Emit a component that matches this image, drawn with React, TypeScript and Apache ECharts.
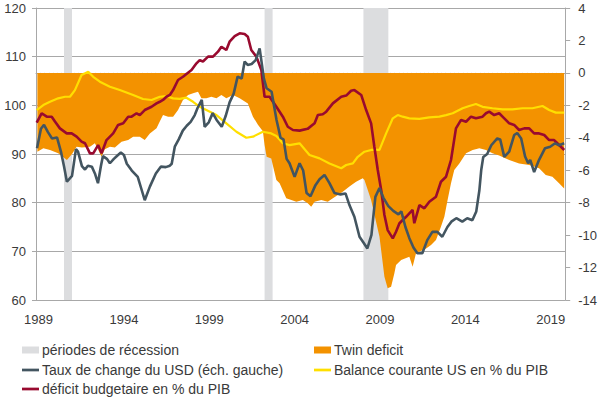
import React, { useEffect, useRef } from "react";
import * as echarts from "echarts";

const X_MIN = 1988.85;
const X_MAX = 2019.85;
const yearLabels = [1989, 1994, 1999, 2004, 2009, 2014, 2019];

const recessionPeriods: [number, number][] = [
  [1990.49, 1990.96],
  [2002.24, 2002.71],
  [2008.03, 2009.49],
];

// USD exchange rate index (left axis)
const usdIndex: [number, number][] = [
  [1988.91, 91.2], [1989.14, 95.2], [1989.32, 96.0], [1989.55, 94.5], [1989.79, 93.2],
  [1990.08, 93.4], [1990.31, 90.5], [1990.49, 87.5], [1990.66, 84.3], [1990.96, 85.5],
  [1991.19, 91.0], [1991.31, 90.5], [1991.54, 87.5], [1991.72, 86.8], [1991.89, 87.6],
  [1992.12, 87.4], [1992.3, 86.0], [1992.48, 84.0], [1992.65, 87.5], [1992.77, 89.6],
  [1993.0, 89.0], [1993.18, 88.1], [1993.41, 89.0], [1993.59, 89.6], [1993.82, 90.3],
  [1994.0, 89.8], [1994.17, 88.0], [1994.46, 86.6], [1994.81, 85.3], [1995.05, 82.5],
  [1995.22, 80.5], [1995.52, 83.3], [1995.87, 86.0], [1996.16, 87.4], [1996.45, 87.3],
  [1996.69, 87.6], [1996.8, 88.0], [1996.98, 91.5], [1997.21, 93.0], [1997.45, 94.8],
  [1997.68, 95.8], [1997.91, 96.6], [1998.15, 98.0], [1998.32, 99.5], [1998.56, 101.1],
  [1998.73, 95.6], [1998.97, 96.5], [1999.2, 98.4], [1999.43, 97.0], [1999.73, 95.6],
  [1999.96, 97.8], [2000.19, 100.6], [2000.43, 102.4], [2000.66, 105.9], [2000.9, 105.5],
  [2001.07, 109.0], [2001.25, 108.3], [2001.48, 108.5], [2001.72, 109.3], [2001.95, 111.7],
  [2002.2, 105.5], [2002.36, 103.5], [2002.65, 102.8], [2002.94, 97.0], [2003.18, 93.3],
  [2003.35, 93.0], [2003.53, 89.0], [2003.7, 88.1], [2004.0, 85.3], [2004.29, 88.1],
  [2004.5, 86.6], [2004.7, 82.0], [2004.93, 81.3], [2005.22, 83.6], [2005.46, 84.8],
  [2005.75, 85.7], [2006.04, 84.0], [2006.33, 82.0], [2006.69, 81.7], [2006.98, 81.9],
  [2007.21, 79.5], [2007.5, 77.1], [2007.8, 73.0], [2008.03, 71.8], [2008.26, 70.6],
  [2008.5, 73.4], [2008.73, 81.2], [2008.97, 83.0], [2009.2, 81.0], [2009.49, 79.3],
  [2009.78, 78.3], [2010.08, 77.6], [2010.25, 78.2], [2010.49, 75.0], [2010.72, 72.7],
  [2010.96, 70.8], [2011.19, 69.6], [2011.48, 69.6], [2011.77, 72.3], [2012.07, 74.0],
  [2012.36, 74.0], [2012.65, 73.0], [2012.95, 75.0], [2013.18, 76.1], [2013.47, 76.8],
  [2013.82, 76.1], [2014.11, 76.8], [2014.41, 76.4], [2014.64, 78.2], [2014.82, 82.5],
  [2014.93, 86.7], [2015.05, 89.4], [2015.28, 90.0], [2015.52, 91.8], [2015.87, 93.2],
  [2016.04, 93.0], [2016.28, 89.4], [2016.57, 90.5], [2016.86, 93.9], [2017.04, 94.3],
  [2017.27, 93.2], [2017.5, 89.5], [2017.68, 88.1], [2017.8, 88.8], [2018.03, 86.3],
  [2018.32, 88.8], [2018.67, 91.2], [2018.97, 91.5], [2019.26, 92.2], [2019.49, 91.8],
  [2019.79, 92.2],
];

// Budget deficit, % of GDP (right axis)
const budgetDeficit: [number, number][] = [
  [1988.89, -3.07], [1989.18, -2.49], [1989.48, -2.7], [1989.77, -2.7], [1989.96, -3.0],
  [1990.25, -3.42], [1990.65, -3.73], [1990.94, -3.73], [1991.23, -3.93], [1991.52, -4.24],
  [1991.72, -4.34], [1992.01, -4.96], [1992.2, -4.96], [1992.49, -4.45], [1992.69, -4.96],
  [1992.98, -4.14], [1993.37, -3.73], [1993.66, -3.21], [1993.96, -3.11], [1994.25, -2.7],
  [1994.45, -2.7], [1994.74, -2.49], [1994.93, -2.6], [1995.22, -2.29], [1995.62, -2.09],
  [1995.91, -1.88], [1996.1, -1.78], [1996.29, -1.67], [1996.49, -1.47], [1996.69, -1.36],
  [1996.88, -1.06], [1997.17, -0.44], [1997.46, -0.24], [1997.96, 0.18], [1998.25, 0.59],
  [1998.44, 0.79], [1998.63, 0.7], [1998.93, 1.0], [1999.22, 1.0], [1999.51, 1.31],
  [1999.71, 1.61], [2000.0, 1.41], [2000.19, 1.92], [2000.49, 2.27], [2000.78, 2.44],
  [2001.07, 2.4], [2001.26, 2.23], [2001.46, 1.41], [2001.76, 1.0], [2002.05, 0.18],
  [2002.24, -1.47], [2002.53, -1.47], [2002.93, -2.09], [2003.31, -2.7], [2003.6, -3.32],
  [2003.9, -3.52], [2004.29, -3.56], [2004.76, -3.45], [2005.17, -3.11], [2005.36, -2.6],
  [2005.65, -2.55], [2005.85, -2.39], [2006.24, -1.88], [2006.73, -1.47], [2007.02, -1.4],
  [2007.31, -1.1], [2007.5, -1.06], [2007.9, -1.36], [2008.19, -2.29], [2008.48, -3.11],
  [2008.67, -4.55], [2008.87, -5.99], [2009.07, -7.22], [2009.26, -8.76], [2009.45, -9.69],
  [2009.75, -10.2], [2009.94, -9.79], [2010.14, -9.27], [2010.53, -8.87], [2010.91, -8.45],
  [2011.01, -9.27], [2011.31, -8.15], [2011.6, -8.35], [2011.89, -7.94], [2012.28, -7.63],
  [2012.57, -6.71], [2012.87, -6.4], [2013.16, -5.37], [2013.45, -3.42], [2013.75, -2.9],
  [2014.04, -3.01], [2014.33, -2.7], [2014.62, -2.8], [2015.01, -2.7], [2015.21, -2.49],
  [2015.4, -2.39], [2015.69, -2.6], [2015.98, -2.49], [2016.28, -2.8], [2016.57, -3.11],
  [2016.86, -3.21], [2017.15, -3.52], [2017.45, -3.42], [2017.74, -3.42], [2018.03, -3.73],
  [2018.32, -3.73], [2018.62, -3.83], [2018.91, -4.14], [2019.2, -4.14], [2019.39, -4.34],
  [2019.79, -4.75],
];

// Current account balance, % of GDP (right axis)
const currentAccount: [number, number][] = [
  [1988.89, -2.29], [1989.28, -1.98], [1989.67, -1.78], [1990.15, -1.57], [1990.55, -1.47],
  [1990.84, -1.47], [1991.13, -1.06], [1991.52, -0.13], [1991.91, 0.07], [1992.2, -0.24],
  [1992.59, -0.54], [1993.18, -0.85], [1993.76, -1.06], [1994.54, -1.36], [1995.12, -1.61],
  [1995.62, -1.67], [1996.1, -1.47], [1996.49, -1.43], [1996.88, -1.57], [1997.27, -1.6],
  [1997.66, -1.53], [1998.05, -1.78], [1998.44, -2.09], [1998.83, -2.29], [1999.42, -2.6],
  [2000.0, -3.11], [2000.59, -3.63], [2001.17, -4.0], [2001.56, -3.93], [2002.14, -3.63],
  [2002.63, -3.73], [2002.93, -3.89], [2003.31, -4.34], [2003.7, -4.45], [2004.29, -4.34],
  [2004.87, -5.06], [2005.46, -5.27], [2006.04, -5.58], [2006.73, -5.88], [2007.02, -5.68],
  [2007.41, -5.58], [2007.7, -5.17], [2008.09, -4.86], [2008.48, -4.75], [2008.97, -4.75],
  [2009.36, -3.73], [2009.75, -2.8], [2010.04, -2.6], [2010.33, -2.7], [2010.72, -2.8],
  [2011.31, -2.84], [2011.89, -2.74], [2012.48, -2.7], [2012.87, -2.6], [2013.26, -2.49],
  [2013.84, -2.18], [2014.23, -2.04], [2014.62, -1.92], [2015.01, -2.09], [2015.59, -2.18],
  [2016.18, -2.25], [2016.76, -2.25], [2017.35, -2.18], [2017.93, -2.18], [2018.52, -2.04],
  [2018.91, -2.29], [2019.3, -2.45], [2019.79, -2.45],
];

// Twin deficit (current account + budget), % of GDP (right axis)
const twinDeficit: [number, number][] = [
  [1988.93, -4.86], [1989.28, -4.65], [1989.67, -4.75], [1990.15, -4.96], [1990.55, -5.27],
  [1990.66, -5.37], [1990.96, -5.0], [1991.23, -4.55], [1991.54, -4.6], [1992.01, -4.55],
  [1992.3, -4.34], [1992.48, -4.7], [1992.69, -5.17], [1992.88, -4.7], [1993.18, -4.55],
  [1993.47, -4.6], [1993.86, -4.24], [1994.25, -4.14], [1994.54, -3.93], [1994.93, -3.93],
  [1995.22, -4.14], [1995.52, -3.73], [1995.91, -3.42], [1996.1, -3.0], [1996.29, -2.6],
  [1996.59, -2.7], [1996.88, -2.7], [1997.17, -2.29], [1997.46, -1.67], [1997.76, -1.36],
  [1998.05, -1.26], [1998.34, -1.16], [1998.54, -1.57], [1998.83, -1.57], [1999.12, -1.47],
  [1999.42, -1.57], [1999.71, -1.36], [2000.0, -1.57], [2000.39, -1.36], [2000.78, -1.57],
  [2001.26, -1.88], [2001.56, -2.7], [2001.85, -3.2], [2002.14, -3.6], [2002.24, -4.45],
  [2002.36, -5.17], [2002.63, -5.27], [2002.93, -6.6], [2003.12, -6.81], [2003.51, -7.73],
  [2004.1, -7.94], [2004.48, -7.84], [2004.77, -8.04], [2004.97, -8.25], [2005.17, -7.94],
  [2005.56, -7.84], [2005.94, -7.94], [2006.24, -7.73], [2006.82, -7.32], [2007.21, -7.01],
  [2007.6, -6.71], [2007.99, -6.5], [2008.09, -6.6], [2008.48, -7.84], [2008.97, -10.1],
  [2009.26, -12.56], [2009.45, -13.28], [2009.65, -13.18], [2009.84, -12.36], [2009.94, -11.84],
  [2010.24, -11.54], [2010.72, -11.33], [2010.91, -11.95], [2011.11, -11.12], [2011.7, -10.82],
  [2011.99, -10.61], [2012.28, -10.3], [2012.57, -9.48], [2012.77, -8.87], [2012.96, -7.84],
  [2013.16, -6.81], [2013.35, -5.99], [2013.65, -5.58], [2013.84, -5.27], [2014.04, -4.96],
  [2014.43, -4.75], [2014.82, -4.65], [2015.21, -4.75], [2015.59, -4.96], [2015.98, -5.1],
  [2016.57, -5.37], [2017.15, -5.58], [2017.74, -5.68], [2018.32, -5.88], [2018.71, -6.3],
  [2019.1, -6.4], [2019.49, -6.81], [2019.79, -7.12],
];

const N_RECESSION = "périodes de récession";
const N_TWIN = "Twin deficit";
const N_USD = "Taux de change du USD (éch. gauche)";
const N_CA = "Balance courante US en % du PIB";
const N_BUDGET = "déficit budgetaire en % du PIB";

const C_RECESSION = "#dcdddf";
const C_TWIN = "#f39200";
const C_USD = "#435560";
const C_CA = "#ffdf00";
const C_BUDGET = "#990a2f";
const C_AXIS = "#a8a8a8";
const C_TEXT = "#3a3a3a";
const FONT = "Liberation Sans, Arial, sans-serif";
const LINE_ICON = "path://M0 0H20V3.2H0Z";

export default function App() {
  const ref = useRef<HTMLDivElement>(null);

  useEffect(() => {
    if (!ref.current) return;
    const chart = echarts.init(ref.current, undefined, { renderer: "svg" });

    const quarterTicks: number[] = [];
    for (let i = 0; i <= 124; i++) quarterTicks.push(X_MIN + i * 0.25);

    const lineSeries = (name: string, data: [number, number][], color: string, width: number, yAxisIndex: number, z: number) => ({
      name,
      type: "line",
      yAxisIndex,
      data,
      symbol: "none",
      showSymbol: false,
      lineStyle: { color, width },
      itemStyle: { color },
      z,
    });

    const legendItem = (name: string, icon: string, left: number, top: number) => ({
      orient: "horizontal",
      left,
      top,
      padding: 0,
      itemWidth: 17,
      itemHeight: 7,
      selectedMode: false,
      textStyle: { fontSize: 14, color: C_TEXT, fontFamily: FONT, padding: [0, 0, 0, -2] },
      data: [{ name, icon }],
    });

    chart.setOption({
      animation: false,
      textStyle: { fontFamily: FONT },
      grid: { left: 36, right: 34, top: 8, bottom: 103, containLabel: false },
      legend: [
        legendItem(N_RECESSION, "rect", 22, 343),
        legendItem(N_USD, LINE_ICON, 22, 363),
        legendItem(N_BUDGET, LINE_ICON, 22, 382),
        legendItem(N_TWIN, "rect", 314, 343),
        legendItem(N_CA, LINE_ICON, 314, 363),
      ],
      xAxis: {
        type: "value",
        min: X_MIN,
        max: X_MAX,
        axisLine: { show: true, lineStyle: { color: C_AXIS, width: 1 } },
        axisTick: { show: true, customValues: quarterTicks, length: 4, lineStyle: { color: C_AXIS } },
        axisLabel: {
          customValues: yearLabels,
          formatter: (v: number) => String(Math.round(v)),
          margin: 13,
          fontSize: 13,
          color: C_TEXT,
          fontFamily: FONT,
        },
        splitLine: { show: false },
      },
      yAxis: [
        {
          type: "value",
          position: "left",
          min: 60,
          max: 120,
          interval: 10,
          axisLine: { show: true, lineStyle: { color: C_AXIS } },
          axisTick: { show: true, length: 4, lineStyle: { color: C_AXIS } },
          axisLabel: { margin: 10, fontSize: 13, color: C_TEXT, fontFamily: FONT },
          splitLine: { show: true, lineStyle: { color: C_AXIS, width: 1 } },
        },
        {
          type: "value",
          position: "right",
          min: -14,
          max: 4,
          interval: 2,
          axisLine: { show: true, lineStyle: { color: C_AXIS } },
          axisTick: { show: true, length: 5, lineStyle: { color: C_AXIS } },
          axisLabel: { margin: 13, fontSize: 13, color: C_TEXT, fontFamily: FONT },
          splitLine: { show: false },
        },
      ],
      series: [
        {
          name: N_RECESSION,
          type: "line",
          yAxisIndex: 0,
          data: [],
          symbol: "none",
          itemStyle: { color: C_RECESSION },
          lineStyle: { color: C_RECESSION },
          z: 1,
          markArea: {
            silent: true,
            itemStyle: { color: C_RECESSION, opacity: 1 },
            data: recessionPeriods.map(([a, b]) => [{ xAxis: a }, { xAxis: b }]),
          },
        },
        {
          name: N_TWIN,
          type: "line",
          yAxisIndex: 1,
          data: twinDeficit,
          symbol: "none",
          showSymbol: false,
          lineStyle: { width: 0, color: C_TWIN },
          itemStyle: { color: C_TWIN },
          areaStyle: { color: C_TWIN, opacity: 1 },
          z: 2,
        },
        lineSeries(N_CA, currentAccount, C_CA, 2.2, 1, 3),
        lineSeries(N_BUDGET, budgetDeficit, C_BUDGET, 2.6, 1, 4),
        lineSeries(N_USD, usdIndex, C_USD, 2.6, 0, 5),
      ],
    });

    return () => chart.dispose();
  }, []);

  return (
    <div
      ref={ref}
      style={{ position: "fixed", left: 0, top: 0, width: 600, height: 403, background: "#fff" }}
    />
  );
}
